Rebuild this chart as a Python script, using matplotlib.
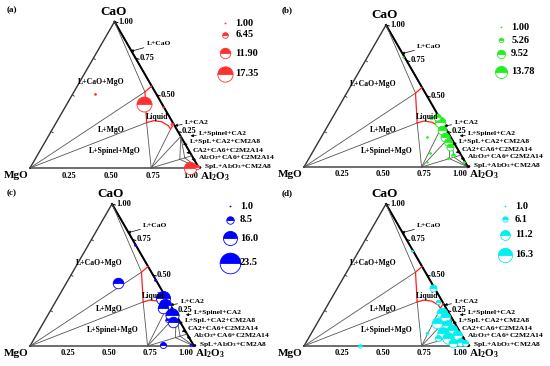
import numpy as np
import matplotlib
matplotlib.use('Agg')
import matplotlib.pyplot as plt

plt.rcParams['font.family'] = ['Liberation Serif', 'DejaVu Serif']
plt.rcParams['font.weight'] = 'bold'
plt.rcParams['mathtext.fontset'] = 'custom'
plt.rcParams['mathtext.rm'] = 'Liberation Serif:bold'
plt.rcParams['mathtext.it'] = 'Liberation Serif:bold'
plt.rcParams['mathtext.bf'] = 'Liberation Serif:bold'

# inclusion compositions (mass fraction CaO, Al2O3; MgO is the rest) and size
a_cao = [0.509, 0.437, 0.415, 0.300, 0.000, 0.007]
a_al = [0.130, 0.456, 0.582, 0.688, 0.947, 0.985]
a_size = [2.0, 17.0, 1.5, 3.0, 14.0, 5.0]

b_cao = [0.319, 0.261, 0.213, 0.178, 0.143, 0.085, 0.354, 0.213, 0.096, 0.033, 0.037, 0.772, 0.343, 0.061]
b_al = [0.670, 0.709, 0.753, 0.791, 0.818, 0.868, 0.632, 0.642, 0.720, 0.732, 0.960, 0.219, 0.601, 0.849]
b_size = [12.0, 10.0, 10.0, 9.0, 8.0, 4.0, 8.0, 2.0, 2.0, 1.5, 2.0, 1.5, 3.0, 2.0]

c_cao = [0.444, 0.713, 0.467, 0.336, 0.289, 0.266, 0.218, 0.171, 0.185, 0.007, 0.007]
c_al = [0.316, 0.283, 0.529, 0.645, 0.679, 0.680, 0.755, 0.789, 0.741, 0.810, 0.980]
c_size = [12.0, 2.0, 2.0, 16.0, 14.0, 12.0, 15.0, 12.0, 4.0, 7.0, 3.0]

d_cao = [0.406, 0.312, 0.230, 0.207, 0.160, 0.148, 0.113, 0.089, 0.078, 0.054,
         0.030, 0.054, 0.019, 0.019, 0.000, 0.667, 0.092]
d_al = [0.585, 0.663, 0.725, 0.757, 0.729, 0.796, 0.844, 0.805, 0.892, 0.853,
        0.936, 0.792, 0.972, 0.901, 0.341, 0.324, 0.702]
d_size = [8.0, 5.0, 12.0, 11.0, 12.0, 11.0, 12.0, 13.0, 11.0, 13.0,
          9.0, 7.0, 7.0, 10.0, 4.0, 2.0, 3.0]

a_leg = ['1.00', '6.45', '11.90', '17.35']
b_leg = ['1.00', '5.26', '9.52', '13.78']
c_leg = ['1.0', '8.5', '16.0', '23.5']
d_leg = ['1.0', '6.1', '11.2', '16.3']

# phase diagram points (CaO, Al2O3)
J1 = (0.52, 0.42)
J2 = (0.31, 0.535)
S = (0.0, 0.717)
CA2 = (0.216, 0.784)
CA6 = (0.084, 0.916)
CM2A8 = (0.059, 0.857)
C2M2A14 = (0.069, 0.881)
L2 = (0.266, 0.699)
red_upper = [(0.56, 0.44), J1, J2]
red_lower = [J2, (0.323, 0.568), (0.316, 0.621), (0.289, 0.674), L2, (0.30, 0.70)]
tie_lines = [((1.0, 0.0), J1), ((0.0, 0.0), J1), ((0.0, 0.0), J2), (J2, S),
             (S, L2), (S, CA2), (S, CM2A8), (CA2, CM2A8), (CA2, C2M2A14),
             (CA6, C2M2A14), (CM2A8, C2M2A14), (C2M2A14, (0.0, 1.0)),
             (CM2A8, (0.0, 1.0))]


def tern(cao, al):
    cao = np.asarray(cao, dtype=float)
    al = np.asarray(al, dtype=float)
    return al + cao / 2, cao * np.sqrt(3) / 2


fig = plt.figure(figsize=(5.5, 3.66), dpi=100)

# panel: top-left pixel, MgO corner pixel, side length (px)
panels = [
    ((0, 0), (30, 168), 169, '(a)', '#ff3030', a_cao, a_al, a_size, a_leg,
     [0.126, 0.191, 0.290, 0.404], 0.818),
    ((275, 0), (304, 167), 164, '(b)', '#22ee22', b_cao, b_al, b_size, b_leg,
     [0.148, 0.219, 0.295, 0.393], 0.822),
    ((0, 183), (30, 346), 164, '(c)', '#0000ff', c_cao, c_al, c_size, c_leg,
     [0.126, 0.202, 0.301, 0.437], 0.836),
    ((275, 183), (304, 346), 164, '(d)', '#00f0f0', d_cao, d_al, d_size, d_leg,
     [0.126, 0.197, 0.284, 0.393], 0.836),
]

h3 = np.sqrt(3) / 2
for (px, py), (X0, Y0), s, tag, col, cao, al, size, leg, leg_y, leg_x in panels:
    ax = fig.add_axes([px / 550, (366 - py - 183) / 366, 275 / 550, 183 / 366])
    ax.set_xlim((px - X0) / s, (px + 275 - X0) / s)
    ax.set_ylim((Y0 - py - 183) / s, (Y0 - py) / s)
    ax.axis('off')
    px_per_pt = 0.88 * 0.72

    # triangle
    ax.plot([0, 1, 0.5, 0], [0, 0, h3, 0], color='#333333', lw=1.0, zorder=2)
    ax.plot([1, 0.5], [0, h3], color='k', lw=1.4, zorder=2)
    for v in [0.25, 0.5, 0.75]:
        lx, ly = v / 2, v * h3
        ax.plot([lx, lx + 0.012], [ly, ly - 0.008], color='#333333', lw=0.6)
    for v in [0.25, 0.5, 0.75, 1.0]:
        rx, ry = 1 - v / 2, v * h3
        ax.plot([rx, rx + 0.02], [ry, ry - 0.006], color='k', lw=0.7)
        ax.text(rx + 0.025, ry, f'{v:.2f}', fontsize=6, ha='left', va='center')
        bx = v - 0.02 if v < 1 else 0.952
        ax.text(bx, -0.045, f'{v:.2f}', fontsize=6, ha='center', va='center')

    # phase boundaries
    for p, q in tie_lines:
        x, y = tern([p[0], q[0]], [p[1], q[1]])
        ax.plot(x, y, color='#555555', lw=0.6, zorder=2)
    for seg in (red_upper, red_lower):
        x, y = tern([p[0] for p in seg], [p[1] for p in seg])
        ax.plot(x, y, color='#ff2020', lw=0.9, zorder=3)

    # corner labels
    ax.text(0.493, 0.925, 'CaO', fontsize=9.5, ha='center', va='center')
    ax.text(-0.085, -0.045, 'MgO', fontsize=8, ha='center', va='center')
    ax.text(1.005, -0.05, r'Al$_2$O$_3$', fontsize=8, ha='left', va='center')
    ax.text(0.025, 0.945, tag, fontsize=6.5, transform=ax.transAxes,
            ha='left', va='center')

    # region labels
    ax.text(0.424, 0.509, 'L+CaO+MgO', fontsize=5.6, ha='center', va='center')
    ax.text(0.483, 0.227, 'L+MgO', fontsize=5.6, ha='center', va='center')
    ax.text(0.503, 0.100, 'L+Spinel+MgO', fontsize=5.6, ha='center', va='center')
    ax.text(0.75, 0.302, 'Liquid', fontsize=5.6, ha='center', va='center', zorder=5)
    arrows = [
        ('L+CaO', (0.69, 0.736), (0.595, 0.69)),
        ('L+CA2', (0.917, 0.272), (0.855, 0.25)),
        ('L+Spinel+CA2', (1.0, 0.203), (0.95, 0.19)),
        ('L+SpL+CA2+CM2A8', (0.947, 0.154), (0.905, 0.14)),
        ('CA2+CA6+C2M2A14', (0.963, 0.106), (0.925, 0.09)),
        (r'Al$_2$O$_3$+CA6+C2M2A14', (0.996, 0.062), (0.955, 0.05)),
        (r'SpL+Al$_2$O$_3$+CM2A8', (1.03, 0.008), (0.99, 0.003)),
    ]
    for lab, tpos, head in arrows:
        ax.annotate(lab, xy=head, xytext=tpos, fontsize=5.4, ha='left', va='center',
                    arrowprops=dict(arrowstyle='-|>', lw=0.5, color='k',
                                    mutation_scale=4, shrinkA=0, shrinkB=0))

    # inclusions
    x, y = tern(cao, al)
    for xi, yi, si in zip(x, y, size):
        ax.plot(xi, yi, 'o', ms=si * px_per_pt, fillstyle='top', mfc=col,
                mfcalt='white', mec=col, mew=0.6, zorder=4)

    # size legend
    for lab, ly in zip(leg, leg_y):
        ax.plot(leg_x, 1 - ly, 'o', ms=float(lab) * px_per_pt, fillstyle='top',
                mfc=col, mfcalt='white', mec=col, mew=0.6,
                transform=ax.transAxes, clip_on=False)
        ax.text(leg_x + 0.037, 1 - ly, lab, fontsize=7.5, ha='left', va='center',
                transform=ax.transAxes)

fig.savefig('out.png', dpi=100)
